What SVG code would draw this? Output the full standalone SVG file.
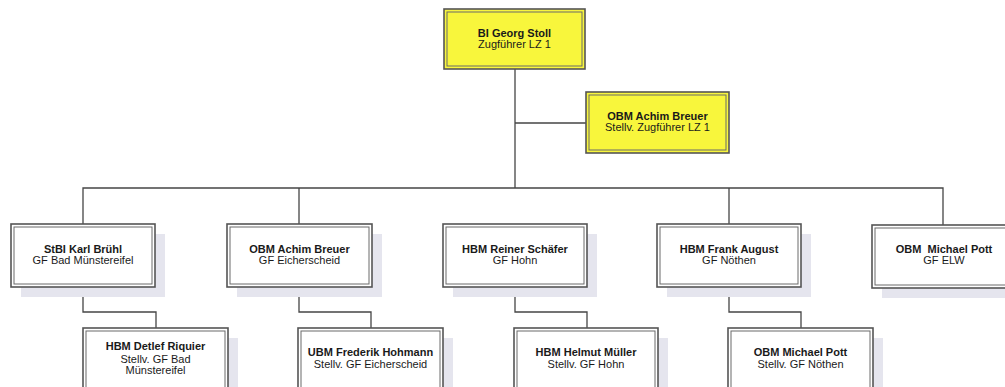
<svg xmlns="http://www.w3.org/2000/svg" width="1005" height="387" viewBox="0 0 1005 387">
<style>
  .bg{fill:#ffffff}
  .shadow{fill:#e5e5ee}
  .box{fill:#ffffff;stroke:#555555;stroke-width:1.6}
  .ybox{fill:#f8f63c;stroke:#555555;stroke-width:1.6}
  .inner{fill:none;stroke:#6a6a6a;stroke-width:1}
  .conn{fill:none;stroke:#454545;stroke-width:1.3}
  text{font-family:"Liberation Sans",Arial,sans-serif;font-size:11px;text-anchor:middle;fill:#1a1a1a}
  .n{font-weight:bold}
</style>
<rect class="bg" x="0" y="0" width="1005" height="387"/>

<g id="connectors">
  <path class="conn" d="M515,69 V188"/>
  <path class="conn" d="M515,123 H586"/>
  <path class="conn" d="M83,224 V188 H943 V225"/>
  <path class="conn" d="M299,188 V224"/>
  <path class="conn" d="M729,188 V224"/>
  <path class="conn" d="M83,287 V312 H156 V328"/>
  <path class="conn" d="M299,287 V312 H371 V328"/>
  <path class="conn" d="M515,287 V312 H587 V328"/>
  <path class="conn" d="M729,287 V312 H801 V328"/>
</g>

<g id="n-stoll">
  <rect class="ybox" x="444" y="9" width="141" height="60"/>
  <rect class="inner" x="447" y="12" width="135" height="54"/>
  <text class="n" x="514.5" y="37">BI Georg Stoll</text>
  <text x="514.5" y="48">Zugführer LZ 1</text>
</g>

<g id="n-breuer-stv">
  <rect class="ybox" x="586" y="92" width="143" height="61"/>
  <rect class="inner" x="589" y="95" width="137" height="55"/>
  <text class="n" x="657.5" y="119.5">OBM Achim Breuer</text>
  <text x="657.5" y="131">Stellv. Zugführer LZ 1</text>
</g>

<g id="n-bruehl">
  <rect class="shadow" x="21" y="234" width="144" height="63"/>
  <rect class="box" x="11" y="224" width="144" height="63"/>
  <rect class="inner" x="14" y="227" width="138" height="57"/>
  <text class="n" x="83" y="253">StBI Karl Brühl</text>
  <text x="83" y="264">GF Bad Münstereifel</text>
</g>

<g id="n-breuer">
  <rect class="shadow" x="237" y="234" width="145" height="63"/>
  <rect class="box" x="227" y="224" width="145" height="63"/>
  <rect class="inner" x="230" y="227" width="139" height="57"/>
  <text class="n" x="299.5" y="253">OBM Achim Breuer</text>
  <text x="299.5" y="264">GF Eicherscheid</text>
</g>

<g id="n-schaefer">
  <rect class="shadow" x="453" y="234" width="144" height="63"/>
  <rect class="box" x="443" y="224" width="144" height="63"/>
  <rect class="inner" x="446" y="227" width="138" height="57"/>
  <text class="n" x="515" y="253">HBM Reiner Schäfer</text>
  <text x="515" y="264">GF Hohn</text>
</g>

<g id="n-august">
  <rect class="shadow" x="667" y="234" width="144" height="63"/>
  <rect class="box" x="657" y="224" width="144" height="63"/>
  <rect class="inner" x="660" y="227" width="138" height="57"/>
  <text class="n" x="729" y="253">HBM Frank August</text>
  <text x="729" y="264">GF Nöthen</text>
</g>

<g id="n-pott-elw">
  <rect class="shadow" x="882" y="235" width="144" height="63"/>
  <rect class="box" x="872" y="225" width="144" height="63"/>
  <rect class="inner" x="875" y="228" width="138" height="57"/>
  <text class="n" x="944" y="253" xml:space="preserve">OBM  Michael Pott</text>
  <text x="944" y="264">GF ELW</text>
</g>

<g id="n-riquier">
  <rect class="shadow" x="93" y="338" width="145" height="63"/>
  <rect class="box" x="83" y="328" width="145" height="63"/>
  <rect class="inner" x="86" y="331" width="139" height="57"/>
  <text class="n" x="155.5" y="350">HBM Detlef Riquier</text>
  <text x="155.5" y="362.5">Stellv. GF Bad</text>
  <text x="155.5" y="374">Münstereifel</text>
</g>

<g id="n-hohmann">
  <rect class="shadow" x="308" y="338" width="145" height="63"/>
  <rect class="box" x="298" y="328" width="145" height="63"/>
  <rect class="inner" x="301" y="331" width="139" height="57"/>
  <text class="n" x="370.5" y="356">UBM Frederik Hohmann</text>
  <text x="370.5" y="367.5">Stellv. GF Eicherscheid</text>
</g>

<g id="n-mueller">
  <rect class="shadow" x="524" y="338" width="144" height="63"/>
  <rect class="box" x="514" y="328" width="144" height="63"/>
  <rect class="inner" x="517" y="331" width="138" height="57"/>
  <text class="n" x="586" y="356">HBM Helmut Müller</text>
  <text x="586" y="367.5">Stellv. GF Hohn</text>
</g>

<g id="n-pott">
  <rect class="shadow" x="738" y="338" width="145" height="63"/>
  <rect class="box" x="728" y="328" width="145" height="63"/>
  <rect class="inner" x="731" y="331" width="139" height="57"/>
  <text class="n" x="800.5" y="356">OBM Michael Pott</text>
  <text x="800.5" y="367.5">Stellv. GF Nöthen</text>
</g>
</svg>
